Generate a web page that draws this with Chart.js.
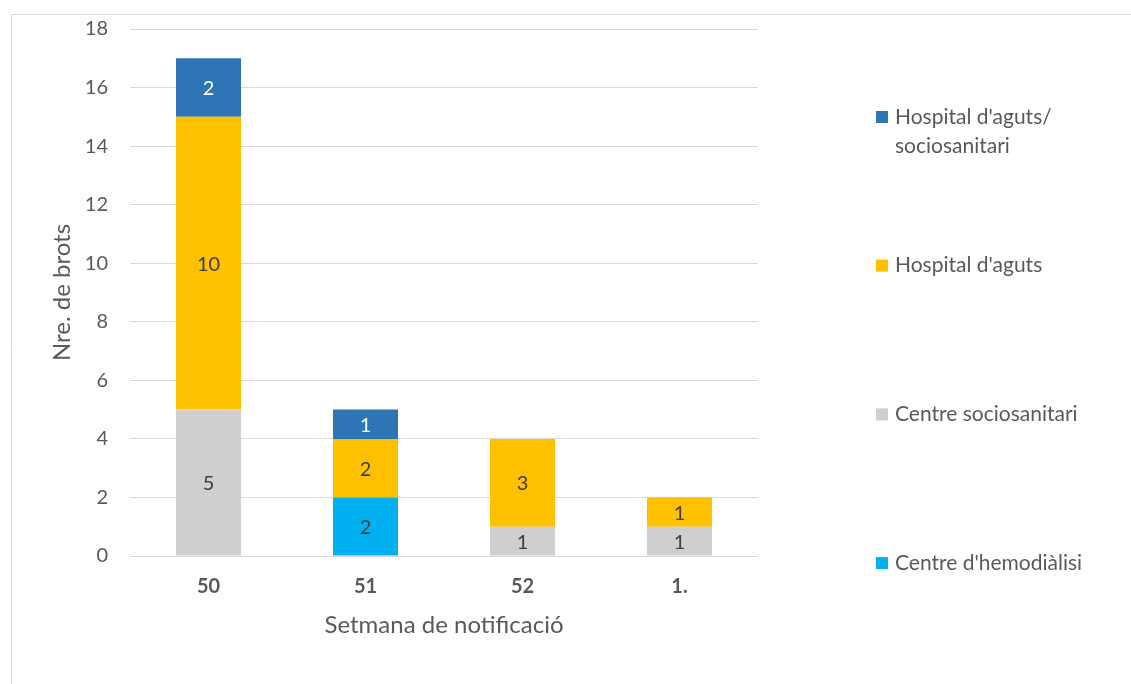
<!DOCTYPE html>
<html>
<head>
<meta charset="utf-8">
<script src="https://cdn.jsdelivr.net/npm/chart.js@4/dist/chart.umd.min.js"></script>
<style>
  html, body { margin: 0; padding: 0; background: #fff; }
  #wrap { position: relative; width: 1131px; height: 684px; }
</style>
</head>
<body>
<div id="wrap"><canvas id="myChart"></canvas></div>
<script>
const weeks = ['50', '51', '52', '1.'];

const hemodialisi = [0, 2, 0, 0];
const centreSocio = [5, 0, 1, 1];
const hospitalAguts = [10, 2, 3, 1];
const agutsSocio = [2, 1, 0, 0];

const seriesNames = [
    'Centre d\'hemodiàlisi',
    'Centre sociosanitari',
    'Hospital d\'aguts',
    ['Hospital d\'aguts/', 'sociosanitari']
];

const yTicks = [0, 2, 4, 6, 8, 10, 12, 14, 16, 18];

const FONT = 'Lato, "Open Sans", sans-serif';
const TXT = '#595959';

const data = {
    labels: weeks,
    datasets: [
        { label: seriesNames[0], data: hemodialisi, backgroundColor: '#00B0F0', labelColor: '#404040' },
        { label: seriesNames[1], data: centreSocio, backgroundColor: '#D0CECE', labelColor: '#404040' },
        { label: seriesNames[2], data: hospitalAguts, backgroundColor: '#FFC000', labelColor: '#404040' },
        { label: seriesNames[3], data: agutsSocio, backgroundColor: '#2E75B6', labelColor: '#ffffff' }
    ]
};

// values in the middle of each segment
const barLabels = {
    id: 'barLabels',
    afterDatasetsDraw(chart) {
        const ctx = chart.ctx;
        ctx.save();
        ctx.font = '20px ' + FONT;
        ctx.textAlign = 'center';
        ctx.textBaseline = 'middle';
        chart.data.datasets.forEach((ds, i) => {
            chart.getDatasetMeta(i).data.forEach((bar, j) => {
                const v = ds.data[j];
                if (!v) return;
                ctx.fillStyle = ds.labelColor;
                ctx.fillText(String(v), bar.x, (bar.y + bar.base) / 2 + 1);
            });
        });
        ctx.restore();
    }
};

// outer frame + legend spread down the right side (reversed order)
const sideLegend = {
    id: 'sideLegend',
    beforeDraw(chart) {
        const ctx = chart.ctx;
        ctx.save();
        ctx.strokeStyle = '#D9D9D9';
        ctx.lineWidth = 1;
        ctx.beginPath();
        ctx.moveTo(11.5, chart.height);
        ctx.lineTo(11.5, 14.5);
        ctx.lineTo(chart.width, 14.5);
        ctx.stroke();
        ctx.restore();
    },
    afterDraw(chart) {
        const ctx = chart.ctx;
        const dsets = chart.data.datasets.slice().reverse();
        ctx.save();
        ctx.font = '21px ' + FONT;
        ctx.textBaseline = 'middle';
        ctx.textAlign = 'left';
        const x = 876, top = 117, step = 148.7;
        dsets.forEach((ds, k) => {
            const y = top + k * step;
            ctx.fillStyle = ds.backgroundColor;
            ctx.fillRect(x, y - 6, 12, 12);
            ctx.fillStyle = TXT;
            const lines = Array.isArray(ds.label) ? ds.label : [ds.label];
            lines.forEach((t, n) => ctx.fillText(t, x + 19, y + n * 29));
        });
        ctx.restore();
    }
};

const config = {
    type: 'bar',
    data,
    options: {
        responsive: true,
        maintainAspectRatio: false,
        animation: false,
        layout: { padding: { top: 29, right: 373, bottom: 0, left: 0 } },
        datasets: { bar: { barPercentage: 1, categoryPercentage: 0.414 } },
        plugins: {
            legend: { display: false },
            tooltip: { enabled: false }
        },
        scales: {
            x: {
                stacked: true,
                afterFit(scale) {
                    scale.height = 128;
                    scale.paddingLeft = 0;
                    scale.paddingRight = 0;
                },
                grid: { display: false, drawTicks: false },
                border: { display: false },
                ticks: { color: TXT, padding: 19, font: { family: FONT, size: 20, weight: 'bold' } },
                title: {
                    display: true,
                    text: 'Setmana de notificació',
                    color: TXT,
                    font: { family: FONT, size: 24 },
                    padding: { top: 12, bottom: 44 }
                }
            },
            y: {
                stacked: true,
                min: 0,
                max: 18,
                afterBuildTicks(scale) { scale.ticks = yTicks.map(v => ({ value: v })); },
                afterFit(scale) {
                    scale.width = 130;
                    scale.paddingTop = 0;
                    scale.paddingBottom = 0;
                },
                grid: { color: '#D9D9D9', lineWidth: 1, drawTicks: false },
                border: { display: false },
                ticks: { color: TXT, padding: 22, font: { family: FONT, size: 20 } },
                title: {
                    display: true,
                    text: 'Nre. de brots',
                    color: TXT,
                    font: { family: FONT, size: 24 },
                    padding: { top: 48, bottom: 0 }
                }
            }
        }
    },
    plugins: [barLabels, sideLegend]
};

var myChart = new Chart(document.getElementById('myChart'), config);
</script>
</body>
</html>
